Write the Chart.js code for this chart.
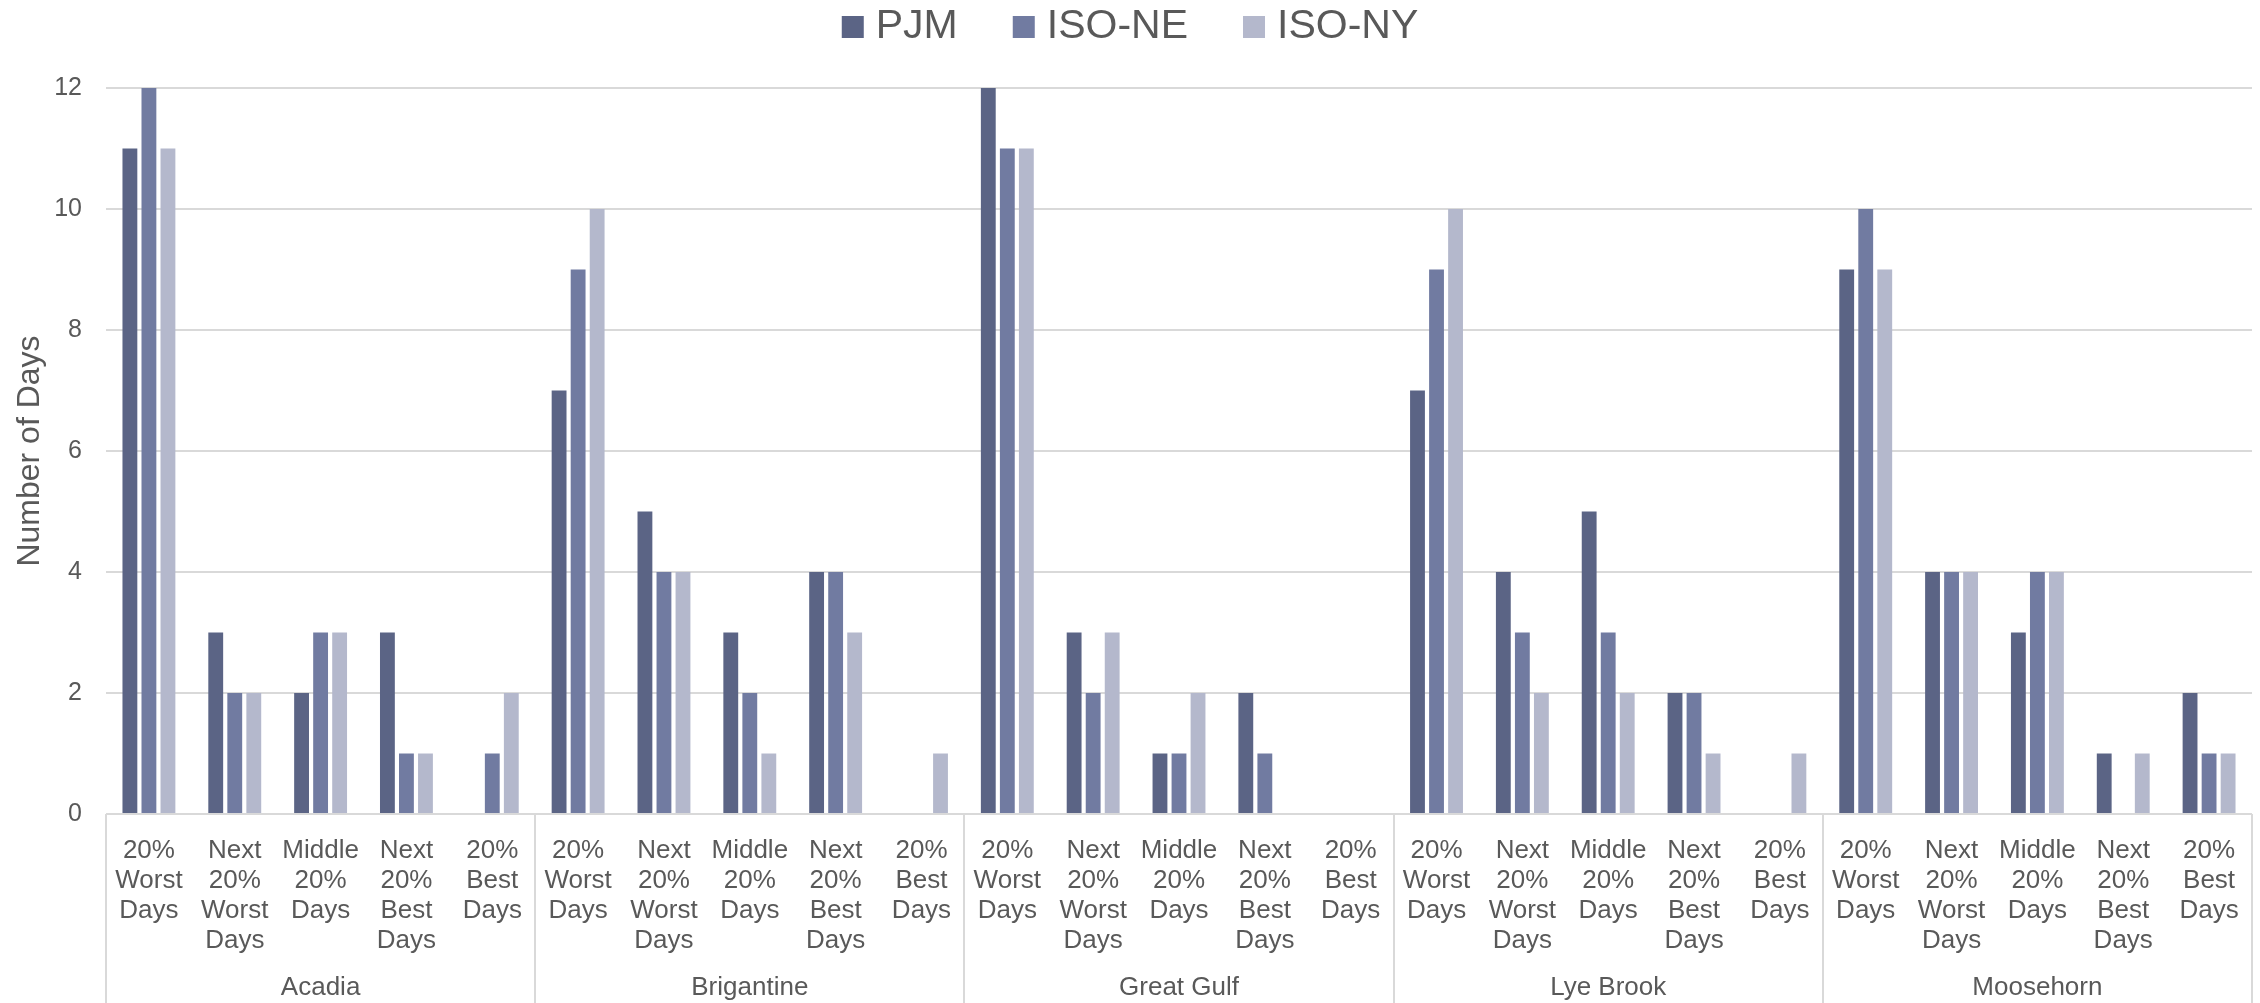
<!DOCTYPE html>
<html>
<head>
<meta charset="utf-8">
<script src="https://cdn.jsdelivr.net/npm/chart.js@4.4.1/dist/chart.umd.min.js"></script>
<style>
  html, body { margin: 0; padding: 0; background: #ffffff; }
  #wrap { width: 2260px; height: 1003px; }
</style>
</head>
<body>
<div id="wrap"><canvas id="chart" width="2260" height="1003"></canvas></div>
<script>
// ── Données ───────────────────────────────────────────────
const SITES = ['Acadia', 'Brigantine', 'Great Gulf', 'Lye Brook', 'Moosehorn'];
const CATEGORIES = [
  ['20%', 'Worst', 'Days'],
  ['Next', '20%', 'Worst', 'Days'],
  ['Middle', '20%', 'Days'],
  ['Next', '20%', 'Best', 'Days'],
  ['20%', 'Best', 'Days'],
];
const SERIES = ['PJM', 'ISO-NE', 'ISO-NY'];

// one block of 5 values per site, same order as SITES
const PJM    = [11, 3, 2, 3, 0,   7, 5, 3, 4, 0,   12, 3, 1, 2, 0,   7, 4, 5, 2, 0,   9, 4, 3, 1, 2];
const ISO_NE = [12, 2, 3, 1, 1,   9, 4, 2, 4, 0,   11, 2, 1, 1, 0,   9, 3, 3, 2, 0,   10, 4, 4, 0, 1];
const ISO_NY = [11, 2, 3, 1, 2,   10, 4, 1, 3, 1,  11, 3, 2, 0, 0,   10, 2, 2, 1, 1,  9, 4, 4, 1, 1];

const Y_TICKS = [0, 2, 4, 6, 8, 10, 12];

const COLORS = ['#5b6485', '#717ba1', '#b4b8cc'];
const TEXT = '#595959';
const GRID = '#d9d9d9';
const FONT = "'Liberation Sans', Arial, sans-serif";

// labels de l'axe : 5 catégories répétées pour chaque site
const labels = [];
SITES.forEach(() => CATEGORIES.forEach(c => labels.push(c)));

// ── Plugins ───────────────────────────────────────────────
// traits verticaux entre les sites, sous l'axe
const groupLines = {
  id: 'groupLines',
  afterDraw(chart) {
    const { ctx, scales: { x } } = chart;
    const n = CATEGORIES.length;
    ctx.save();
    ctx.strokeStyle = GRID;
    ctx.lineWidth = 2;
    for (let g = 0; g <= SITES.length; g++) {
      const px = Math.round(x.getPixelForValue(g * n - 0.5));
      ctx.beginPath();
      ctx.moveTo(px, chart.chartArea.bottom);
      ctx.lineTo(px, chart.height);
      ctx.stroke();
    }
    ctx.restore();
  },
};

// légende centrée en haut
const topLegend = {
  id: 'topLegend',
  afterDraw(chart) {
    const { ctx } = chart;
    const box = 22, gapText = 12, gapItem = 55, cy = 27;
    ctx.save();
    ctx.font = '41px ' + FONT;
    ctx.textBaseline = 'middle';
    const items = chart.data.datasets.map(d => ({
      text: d.label, color: d.backgroundColor, w: ctx.measureText(d.label).width,
    }));
    const total = items.reduce((s, it) => s + box + gapText + it.w, 0) + gapItem * (items.length - 1);
    let x = (chart.width - total) / 2;
    items.forEach(it => {
      ctx.fillStyle = it.color;
      ctx.fillRect(x, cy - box / 2, box, box);
      x += box + gapText;
      ctx.fillStyle = TEXT;
      ctx.fillText(it.text, x, cy);
      x += it.w + gapItem;
    });
    ctx.restore();
  },
};

// ── Graphique ─────────────────────────────────────────────
const mkSet = (label, data, i) => ({
  label,
  data,
  backgroundColor: COLORS[i],
  borderWidth: 0,
  categoryPercentage: 0.665,
  barPercentage: 0.78,
});

new Chart(document.getElementById('chart'), {
  type: 'bar',
  plugins: [groupLines, topLegend],
  data: {
    labels,
    datasets: [
      mkSet(SERIES[0], PJM, 0),
      mkSet(SERIES[1], ISO_NE, 1),
      mkSet(SERIES[2], ISO_NY, 2),
    ],
  },
  options: {
    responsive: false,
    animation: false,
    layout: { padding: { top: 88, right: 8, left: 0, bottom: 0 } },
    plugins: {
      legend: { display: false },
      tooltip: { enabled: false },
    },
    scales: {
      x: {
        type: 'category',
        position: 'bottom',
        weight: 0,
        grid: { display: false },
        border: { display: false },
        ticks: {
          autoSkip: false,
          maxRotation: 0,
          minRotation: 0,
          padding: 14,
          color: TEXT,
          font: { family: FONT, size: 26, lineHeight: 30 / 26 },
        },
        afterFit(scale) { scale.height = 145; },
      },
      x2: {
        type: 'category',
        position: 'bottom',
        weight: 1,
        labels: SITES,
        offset: true,
        grid: { display: false, drawTicks: false },
        border: { display: false },
        ticks: {
          autoSkip: false,
          maxRotation: 0,
          padding: 14,
          color: TEXT,
          font: { family: FONT, size: 26, lineHeight: 30 / 26 },
        },
        afterFit(scale) { scale.height = 44; },
      },
      y: {
        type: 'linear',
        min: Y_TICKS[0],
        max: Y_TICKS[Y_TICKS.length - 1],
        afterBuildTicks(scale) { scale.ticks = Y_TICKS.map(v => ({ value: v })); },
        grid: { color: GRID, lineWidth: 2, drawTicks: false },
        border: { display: false },
        ticks: {
          padding: 24,
          color: TEXT,
          font: { family: FONT, size: 25 },
        },
        title: {
          display: true,
          text: 'Number of Days',
          color: TEXT,
          font: { family: FONT, size: 32, lineHeight: 1.2 },
          padding: { top: 11, bottom: 0 },
        },
        afterFit(scale) { scale.width = 106; },
      },
    },
  },
});
</script>
</body>
</html>
